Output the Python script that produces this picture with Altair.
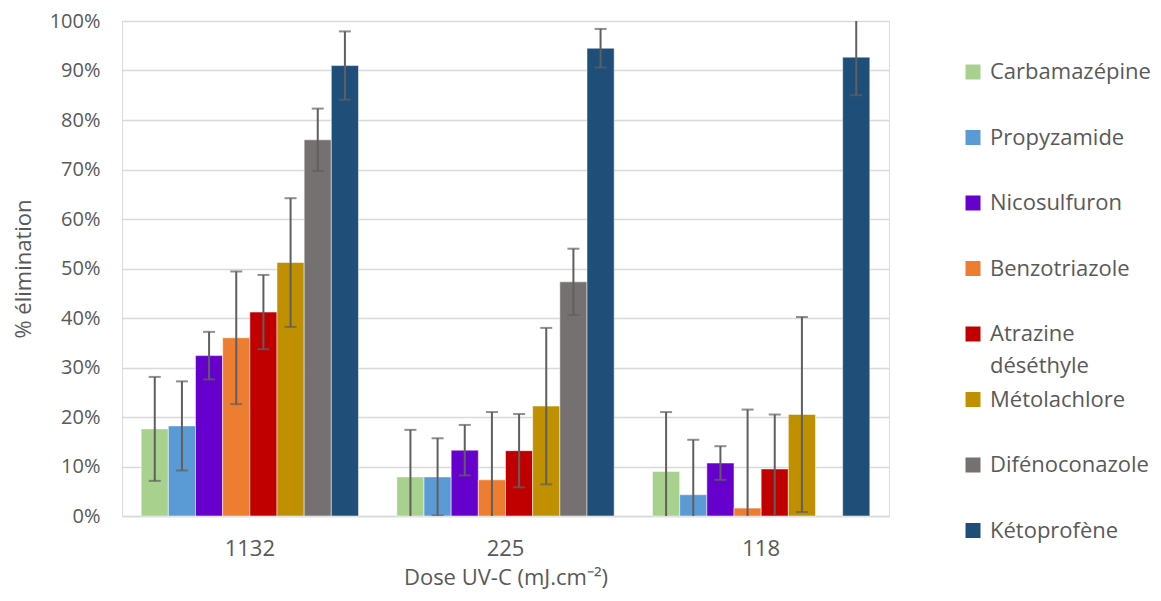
import altair as alt
import pandas as pd

doses = ["1132", "225", "118"]
compounds = ["Carbamazépine", "Propyzamide", "Nicosulfuron", "Benzotriazole",
             "Atrazine déséthyle", "Métolachlore", "Difénoconazole", "Kétoprofène"]
colors = ["#A9D18E", "#5B9BD5", "#6600CC", "#ED7D31",
          "#C00000", "#BF9000", "#767171", "#1F4E79"]

elim_1132 = [17.6, 18.2, 32.4, 36.0, 41.2, 51.2, 76.0, 91.0]
elim_225 = [7.9, 7.9, 13.3, 7.3, 13.2, 22.2, 47.3, 94.5]
elim_118 = [9.0, 4.3, 10.7, 1.6, 9.5, 20.5, None, 92.7]

err_1132 = [10.5, 9.0, 4.8, 13.4, 7.5, 13.0, 6.3, 6.9]
err_225 = [9.5, 7.8, 5.1, 13.7, 7.4, 15.8, 6.7, 3.9]
err_118 = [12.0, 11.1, 3.4, 19.9, 11.0, 19.7, None, 7.7]

y_ticks = list(range(0, 101, 10))

rows = []
for dose, vals, errs in zip(doses, [elim_1132, elim_225, elim_118], [err_1132, err_225, err_118]):
    for c, v, e in zip(compounds, vals, errs):
        rows.append({"dose": dose, "compound": c, "value": v, "err": e})
df = pd.DataFrame(rows)

FONT = "Open Sans"
TXT = "#595959"

x_enc = alt.X(
    "dose:N", sort=doses,
    scale=alt.Scale(paddingInner=0.15, paddingOuter=0.075),
    axis=alt.Axis(title="Dose UV-C (mJ.cm⁻²)", labelAngle=0, ticks=False,
                  domainColor="#D9D9D9", domainWidth=1.5,
                  labelFont=FONT, labelFontSize=22, labelColor=TXT, labelPadding=22,
                  titleFont=FONT, titleFontSize=22, titleColor=TXT,
                  titleFontWeight="normal", titlePadding=8),
)
xo_enc = alt.XOffset("compound:N", sort=compounds,
                     scale=alt.Scale(paddingInner=0, paddingOuter=0))
y_scale = alt.Scale(domain=[0, 100], nice=False)

base = alt.Chart(df)

bars = base.mark_bar(stroke="#ffffff", strokeWidth=1, strokeOpacity=0.5).encode(
    x=x_enc,
    xOffset=xo_enc,
    y=alt.Y("value:Q", scale=y_scale,
            axis=alt.Axis(values=y_ticks, labelExpr="datum.value + '%'",
                          title="% élimination", domain=False, ticks=False,
                          gridColor="#D9D9D9", gridWidth=1.5,
                          labelFont=FONT, labelFontSize=20, labelColor=TXT, labelPadding=22,
                          titleFont=FONT, titleFontSize=22, titleColor=TXT,
                          titleFontWeight="normal", titlePadding=14)),
    color=alt.Color("compound:N", sort=compounds,
                    scale=alt.Scale(domain=compounds, range=colors),
                    legend=alt.Legend(title=None, orient="none", legendX=840, legendY=40,
                                      padding=0, symbolType="square", symbolSize=225,
                                      symbolStrokeWidth=0, labelFont=FONT, labelFontSize=22,
                                      labelColor=TXT, labelOffset=6, labelLimit=400,
                                      gridAlign="all", rowPadding=11.5,
                                      labelExpr="datum.label == 'Atrazine déséthyle' ? ['Atrazine', 'déséthyle'] : datum.label")),
)

err_base = base.transform_filter("datum.err != null && datum.value != null").transform_calculate(
    lo="datum.value - datum.err", hi="datum.value + datum.err"
)

rules = err_base.mark_rule(clip=True, color="#5F5F5F", strokeWidth=2).encode(
    x=x_enc, xOffset=xo_enc,
    y=alt.Y("lo:Q", scale=y_scale), y2="hi:Q",
)
caps_lo = err_base.mark_tick(clip=True, color="#5F5F5F", thickness=2, size=12).encode(
    x=x_enc, xOffset=xo_enc, y=alt.Y("lo:Q", scale=y_scale),
)
caps_hi = err_base.mark_tick(clip=True, color="#5F5F5F", thickness=2, size=12).encode(
    x=x_enc, xOffset=xo_enc, y=alt.Y("hi:Q", scale=y_scale),
)

chart = alt.layer(bars, rules, caps_lo, caps_hi).properties(
    width=767, height=495,
    autosize=alt.AutoSizeParams(type="none"),
    padding={"left": 114, "top": 13, "right": 264, "bottom": 77},
).configure_view(stroke=None).configure(
    style={"guide-label": {"lineHeight": 32}}
)

chart.save("out.html", embed_options={"renderer": "svg", "actions": False})
